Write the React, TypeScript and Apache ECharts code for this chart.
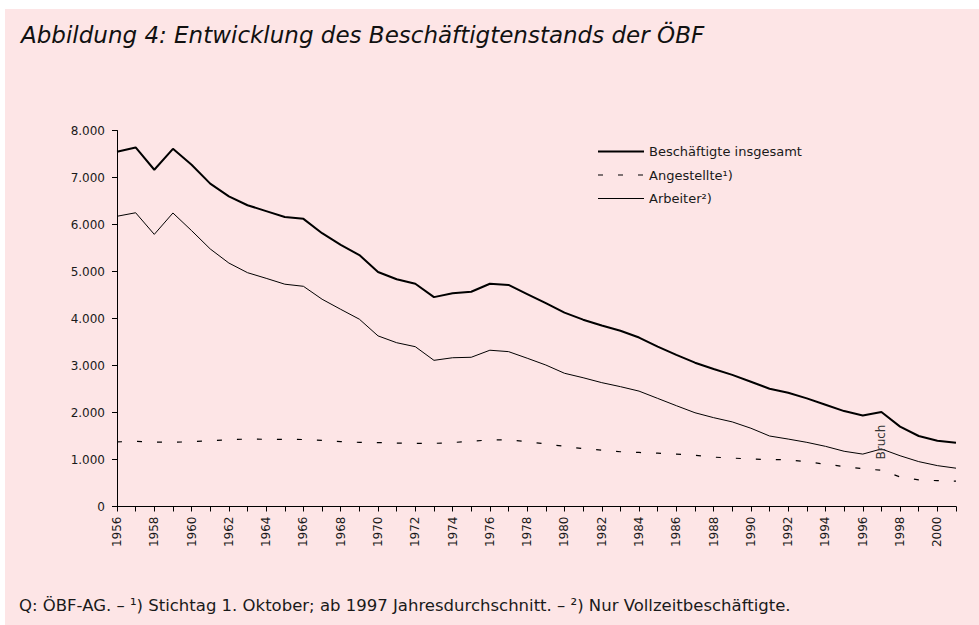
import React, { useEffect, useRef } from "react";
import * as echarts from "echarts";

const years: string[] = [
  "1956","1957","1958","1959","1960","1961","1962","1963","1964","1965",
  "1966","1967","1968","1969","1970","1971","1972","1973","1974","1975",
  "1976","1977","1978","1979","1980","1981","1982","1983","1984","1985",
  "1986","1987","1988","1989","1990","1991","1992","1993","1994","1995",
  "1996","1997","1998","1999","2000","2001",
];

const total: number[] = [
  7550, 7640, 7165, 7610, 7270, 6870, 6600, 6410, 6285, 6160,
  6120, 5815, 5565, 5350, 4990, 4835, 4740, 4455, 4535, 4570,
  4740, 4715, 4520, 4325, 4125, 3975, 3850, 3740, 3595, 3400,
  3225, 3060, 2925, 2800, 2655, 2505, 2420, 2300, 2165, 2030,
  1935, 2010, 1700, 1500, 1400, 1355,
];

const angestellte: number[] = [
  1375, 1385, 1372, 1365, 1380, 1400, 1420, 1435, 1430, 1430,
  1425, 1405, 1380, 1365, 1360, 1350, 1342, 1343, 1360, 1390,
  1415, 1418, 1380, 1330, 1280, 1230, 1200, 1165, 1150, 1135,
  1115, 1090, 1050, 1030, 1010, 1000, 995, 950, 900, 850,
  805, 770, 630, 565, 550, 540,
];

const arbeiter: number[] = [
  6175, 6250, 5790, 6245, 5870, 5480, 5180, 4975, 4855, 4730,
  4685, 4410, 4195, 3985, 3630, 3485, 3400, 3110, 3165, 3175,
  3325, 3295, 3155, 3010, 2835, 2740, 2635, 2550, 2455, 2300,
  2145, 1995, 1890, 1800, 1665, 1500, 1435, 1365, 1280, 1175,
  1115, 1225, 1080, 955, 870, 815,
];

const seriesNames: string[] = ["Beschäftigte insgesamt", "Angestellte¹)", "Arbeiter²)"];
const titleText = "Abbildung 4: Entwicklung des Beschäftigtenstands der ÖBF";
const footerText =
  "Q: ÖBF-AG. – ¹) Stichtag 1. Oktober; ab 1997 Jahresdurchschnitt. – ²) Nur Vollzeitbeschäftigte.";
const breakYear = "1997";
const breakLabelValue = 1372;

const FONT = "'DejaVu Sans', sans-serif";
const TEXT = "#1a1a1a";
const BG = "#fde5e6";

export default function App() {
  const ref = useRef<HTMLDivElement>(null);
  useEffect(() => {
    if (!ref.current) return;
    const chart = echarts.init(ref.current, null, { renderer: "svg" });
    const totalStyle = { color: "#000", width: 2 };
    const angStyle = { color: "#000", width: 1.2, type: [5, 15] };
    const arbStyle = { color: "#000", width: 1 };
    chart.setOption({
      animation: false,
      backgroundColor: BG,
      textStyle: { fontFamily: FONT, color: TEXT },
      title: {
        text: titleText,
        left: 11,
        top: 9,
        textStyle: {
          fontFamily: FONT,
          fontStyle: "italic",
          fontWeight: "normal",
          fontSize: 23,
          color: "#111",
        },
      },
      graphic: [
        {
          type: "text",
          left: 14,
          top: 588,
          style: { text: footerText, fontFamily: FONT, fontSize: 16.5, fill: TEXT },
        },
      ],
      legend: {
        orient: "vertical",
        left: 587,
        top: 131,
        itemWidth: 46,
        itemHeight: 14,
        itemGap: 10.5,
        itemStyle: { opacity: 0 },
        textStyle: { fontFamily: FONT, fontSize: 13, color: TEXT },
        data: [
          { name: seriesNames[0], lineStyle: totalStyle },
          { name: seriesNames[1], lineStyle: angStyle },
          { name: seriesNames[2], lineStyle: arbStyle },
        ],
      },
      grid: { left: 112, right: 23, top: 121.5, bottom: 118.5, containLabel: false },
      xAxis: {
        type: "category",
        data: years,
        boundaryGap: false,
        axisLine: { lineStyle: { color: "#000", width: 1 } },
        axisTick: { interval: 0, length: 5, lineStyle: { color: "#000" } },
        axisLabel: {
          interval: 1,
          rotate: 90,
          margin: 10,
          fontFamily: FONT,
          fontSize: 12,
          color: TEXT,
        },
        splitLine: { show: false },
      },
      yAxis: {
        type: "value",
        min: 0,
        max: 8000,
        interval: 1000,
        axisLine: { show: true, lineStyle: { color: "#000", width: 1 } },
        axisTick: { show: true, length: 5, lineStyle: { color: "#000" } },
        axisLabel: {
          margin: 12,
          fontFamily: FONT,
          fontSize: 12,
          color: TEXT,
          formatter: (v: number) =>
            v === 0 ? "0" : `${Math.floor(v / 1000)}.${String(v % 1000).padStart(3, "0")}`,
        },
        splitLine: { show: false },
      },
      series: [
        {
          name: seriesNames[0],
          type: "line",
          data: total,
          symbol: "none",
          lineStyle: totalStyle,
          itemStyle: { color: "#000" },
        },
        {
          name: seriesNames[1],
          type: "line",
          data: angestellte,
          symbol: "none",
          lineStyle: angStyle,
          itemStyle: { color: "#000" },
          markPoint: {
            symbol: "circle",
            symbolSize: 0,
            data: [
              {
                coord: [breakYear, breakLabelValue],
                label: {
                  show: true,
                  formatter: "Bruch",
                  rotate: 90,
                  position: "inside",
                  fontFamily: FONT,
                  fontSize: 12,
                  color: "#333",
                },
              },
            ],
          },
        },
        {
          name: seriesNames[2],
          type: "line",
          data: arbeiter,
          symbol: "none",
          lineStyle: arbStyle,
          itemStyle: { color: "#000" },
        },
      ],
    });
    return () => chart.dispose();
  }, []);
  return (
    <div
      ref={ref}
      style={{ position: "absolute", left: 5, top: 9, width: 974, height: 616, background: BG }}
    />
  );
}
